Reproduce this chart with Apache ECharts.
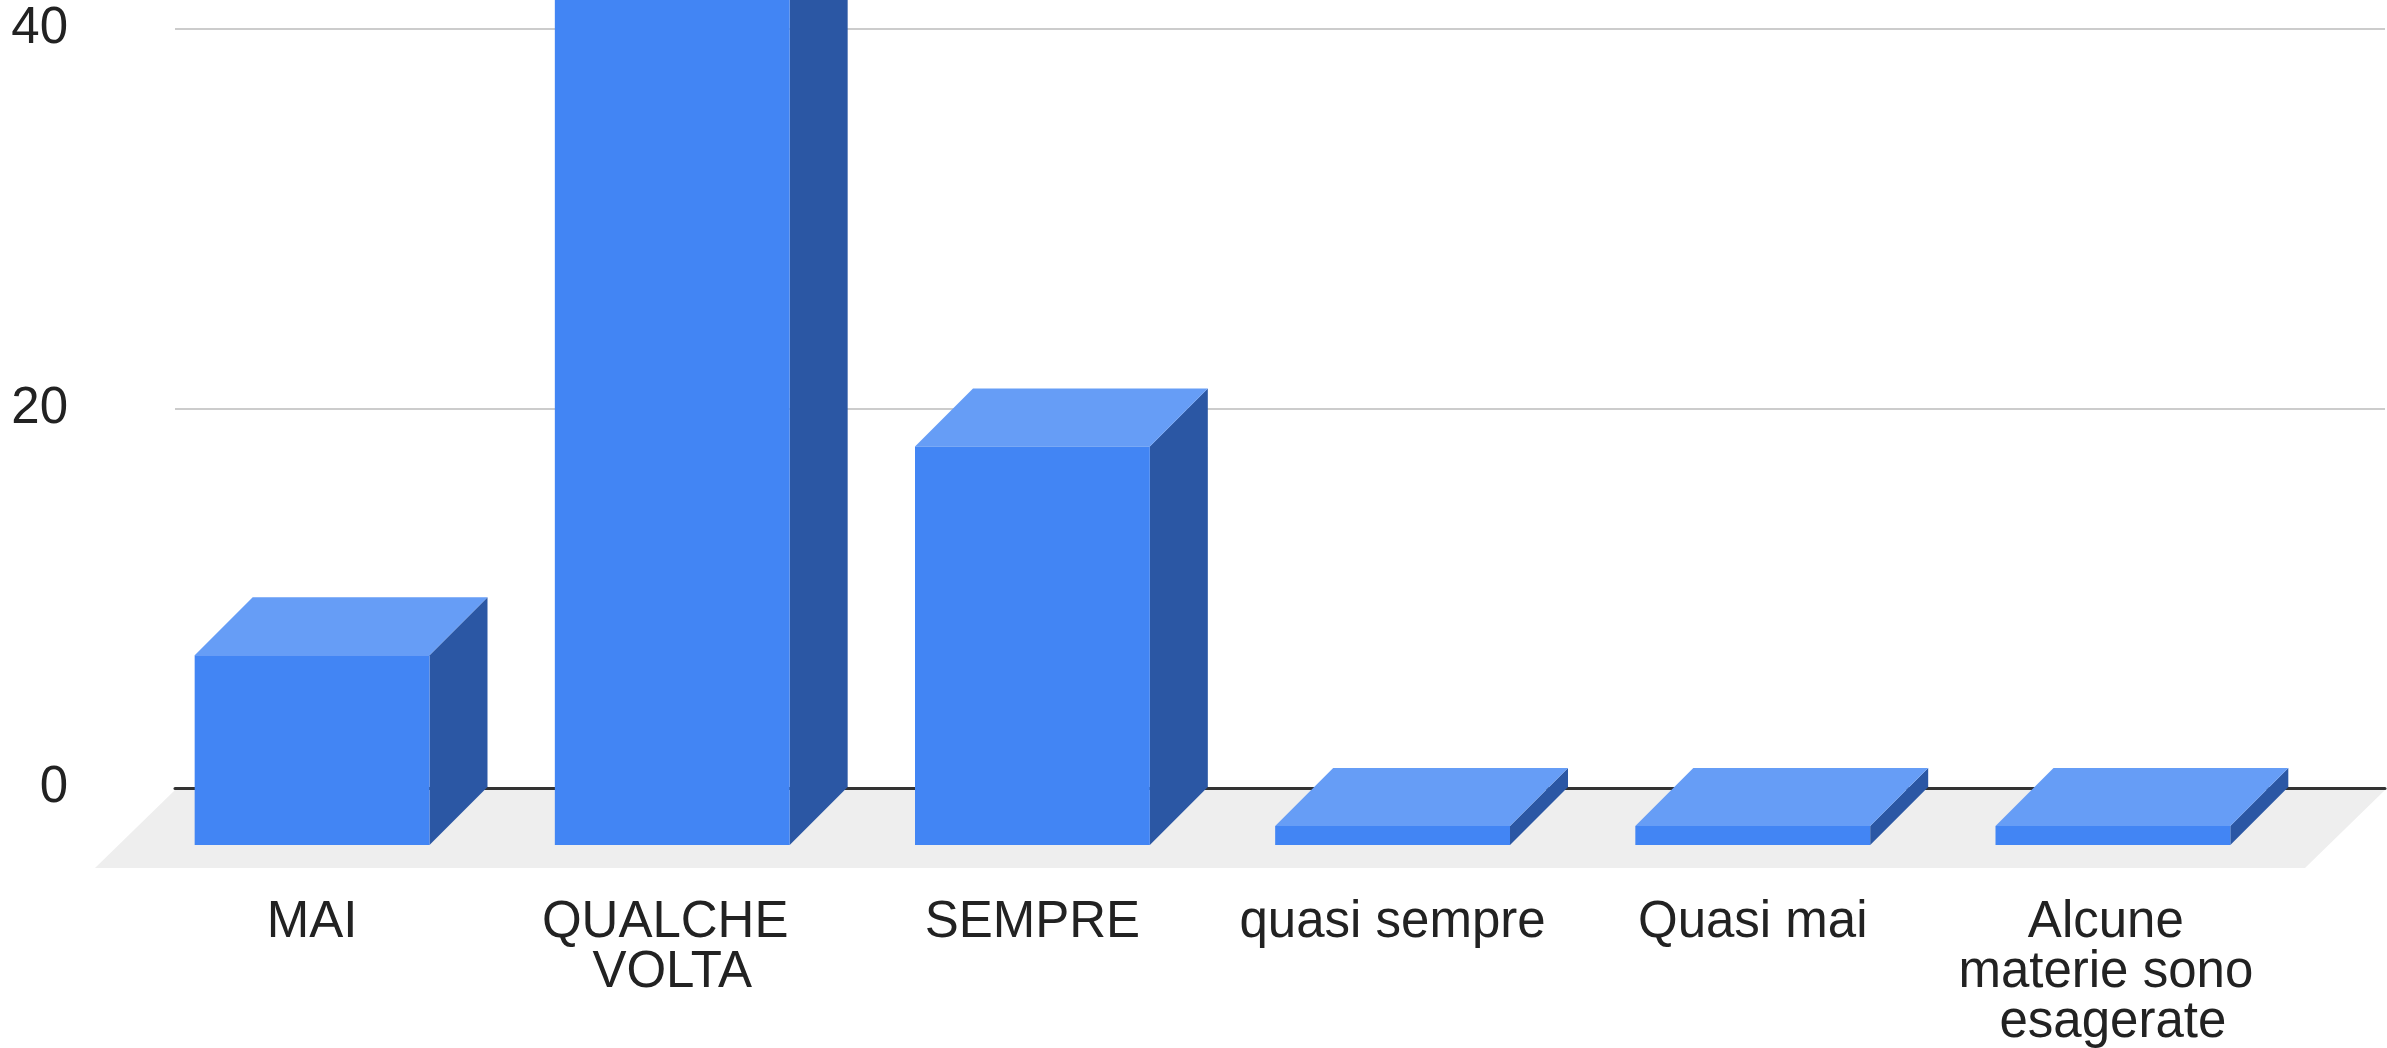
<!DOCTYPE html>
<html>
<head>
  <meta charset="utf-8" />
  <title>Risposte</title>
  <style type="text/css">
    body, html { width: 100%; height: 100%; margin: 0; background: #fff; }
    #chart { width: 2387px; height: 1048px; }
  </style>
  <script type="text/javascript" src="https://cdn.jsdelivr.net/npm/echarts@6/dist/echarts.min.js"></script>
</head>
<body>
  <div id="chart"></div>
<script type="text/javascript">
  // dati
  let categorie = ['MAI', 'QUALCHE VOLTA', 'SEMPRE', 'quasi sempre', 'Quasi mai', 'Alcune materie sono esagerate']
  let valori = [10, 45, 21, 1, 1, 1]
  let tickY = [0, 20, 40, 60]

  const font = 'Arial, "Liberation Sans", sans-serif'
  const D = 58        // profondità 3d delle barre
  const PX_UNIT = 18.975
  const yMax = tickY[tickY.length - 1]

  let myChart = echarts.init(document.getElementById('chart'))

  function barra(params, api) {
    let base = api.coord([api.value(0), 0])
    let cima = api.coord([api.value(0), api.value(1)])
    let bw = api.size([1, 0])[0] * 0.652
    let xl = base[0] - bw / 2, xr = base[0] + bw / 2
    let yb = base[1], yt = cima[1]
    return {
      type: 'group',
      children: [
        { type: 'polygon', shape: { points: [[xr, yb], [xr, yt], [xr + D, yt - D], [xr + D, yb - D]] }, style: { fill: '#2b57a4' } },
        { type: 'polygon', shape: { points: [[xl, yt], [xr, yt], [xr + D, yt - D], [xl + D, yt - D]] }, style: { fill: '#669df6' } },
        { type: 'rect', shape: { x: xl, y: yt, width: bw, height: yb - yt }, style: { fill: '#4285f4' } }
      ]
    }
  }

  function pavimento(params, api) {
    let cs = params.coordSys
    let y0 = cs.y + cs.height + 2
    let x0 = cs.x, x1 = cs.x + cs.width
    return {
      type: 'polygon',
      shape: { points: [[x0, y0], [x1, y0], [x1 - 80, y0 + 78], [x0 - 80, y0 + 78]] },
      style: { fill: '#eeeeee' }
    }
  }

  option = {
    animation: false,
    grid: [
      // piano posteriore: griglia e asse
      { left: 175, right: 2, bottom: 260, top: 788 - yMax * PX_UNIT, outerBoundsMode: 'none', containLabel: false },
      // piano frontale: barre ed etichette
      { left: 132, right: 94, bottom: 203, top: 845 - yMax * PX_UNIT, outerBoundsMode: 'none', containLabel: false }
    ],
    xAxis: [
      {
        gridIndex: 0, type: 'value', min: 0, max: 1, z: 3,
        axisLine: { show: true, lineStyle: { color: '#333333', width: 3 } },
        axisTick: { show: false }, axisLabel: { show: false }, splitLine: { show: false }
      },
      {
        gridIndex: 1, type: 'category', data: categorie,
        axisLine: { show: false }, axisTick: { show: false },
        axisLabel: {
          interval: 0, margin: 53, color: '#222222', fontSize: 51, lineHeight: 50,
          fontFamily: font, width: 325, overflow: 'break', align: 'center'
        }
      }
    ],
    yAxis: [
      {
        gridIndex: 0, type: 'value', min: tickY[0], max: yMax, interval: 20,
        axisLine: { show: false }, axisTick: { show: false },
        axisLabel: { margin: 107, color: '#222222', fontSize: 51, fontFamily: font, padding: [0, 0, 6, 0] },
        splitLine: { lineStyle: { color: '#cccccc', width: 2 } }
      },
      {
        gridIndex: 1, type: 'value', min: tickY[0], max: yMax, show: false
      }
    ],
    series: [
      {
        type: 'custom', xAxisIndex: 0, yAxisIndex: 0, z: 1,
        renderItem: pavimento, data: [[0, 0]], silent: true
      },
      {
        name: 'Risposte', type: 'custom', xAxisIndex: 1, yAxisIndex: 1, z: 5,
        renderItem: barra,
        encode: { x: 0, y: 1 },
        data: valori.map((v, i) => [i, v])
      }
    ]
  }

  myChart.setOption(option)
</script>
</body>
</html>
